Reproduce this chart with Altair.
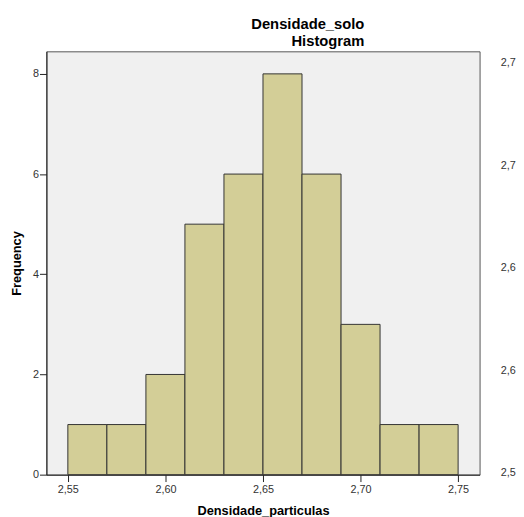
import altair as alt
import pandas as pd

bin_start = [2.55, 2.57, 2.59, 2.61, 2.63, 2.65, 2.67, 2.69, 2.71, 2.73]
bin_end = [2.57, 2.59, 2.61, 2.63, 2.65, 2.67, 2.69, 2.71, 2.73, 2.75]
counts = [1, 1, 2, 5, 6, 8, 6, 3, 1, 1]
x_ticks = [2.55, 2.60, 2.65, 2.70, 2.75]
y_ticks = [0, 2, 4, 6, 8]
right_values = [2.55, 2.60, 2.65, 2.70, 2.75]

bars_df = pd.DataFrame({"start": bin_start, "end": bin_end, "count": counts})
right_df = pd.DataFrame({"v": right_values})

FONT = "Liberation Sans"

bars = alt.Chart(bars_df).mark_bar(
    fill="#d3ce97", stroke="#333333", strokeWidth=1
).encode(
    x=alt.X("start:Q", scale=alt.Scale(domain=[2.539, 2.761], nice=False, zero=False, padding=0),
            axis=alt.Axis(values=x_ticks, title="Densidade_particulas",
                          labelExpr="replace(format(datum.value, '.2f'), '.', ',')",
                          tickSize=7, labelPadding=2, titlePadding=10, grid=False, offset=0)),
    x2="end:Q",
    y=alt.Y("count:Q", scale=alt.Scale(domain=[0, 8.45], nice=False, padding=0),
            axis=alt.Axis(values=y_ticks, title="Frequency", tickSize=7, labelPadding=1,
                          titlePadding=9, grid=False, offset=0)),
    y2=alt.datum(0),
)

right = alt.Chart(right_df).mark_point(opacity=0).encode(
    y=alt.Y("v:Q", scale=alt.Scale(domain=[2.549, 2.7557], nice=False, zero=False, padding=0),
            axis=alt.Axis(orient="right", values=right_values, title=None, domain=False,
                          ticks=False, labelPadding=21, grid=False, offset=0,
                          labelExpr="replace(format(floor(datum.value * 10 + 1e-6) / 10, '.1f'), '.', ',')")),
)

chart = alt.layer(bars, right).resolve_scale(y="independent").properties(
    width=440,
    height=430,
    autosize=alt.AutoSizeParams(type="none"),
    padding={"left": 39, "top": 40, "right": 37, "bottom": 39},
    title=alt.TitleParams(
        text=["Densidade_solo", "Histogram"],
        fontSize=15, fontWeight="bold", font=FONT, color="#000000",
        anchor="middle", align="right", dx=103, offset=2, lineHeight=18,
    ),
).configure_view(
    fill="#f0f0f0", stroke="#555555", strokeWidth=1
).configure_axis(
    labelFont=FONT, labelFontSize=11, labelColor="#333333",
    titleFont=FONT, titleFontSize=13, titleFontWeight="bold", titleColor="#000000",
    domainColor="#222222", tickColor="#222222",
)

chart.save("out.html", embed_options={"renderer": "svg", "actions": False})
